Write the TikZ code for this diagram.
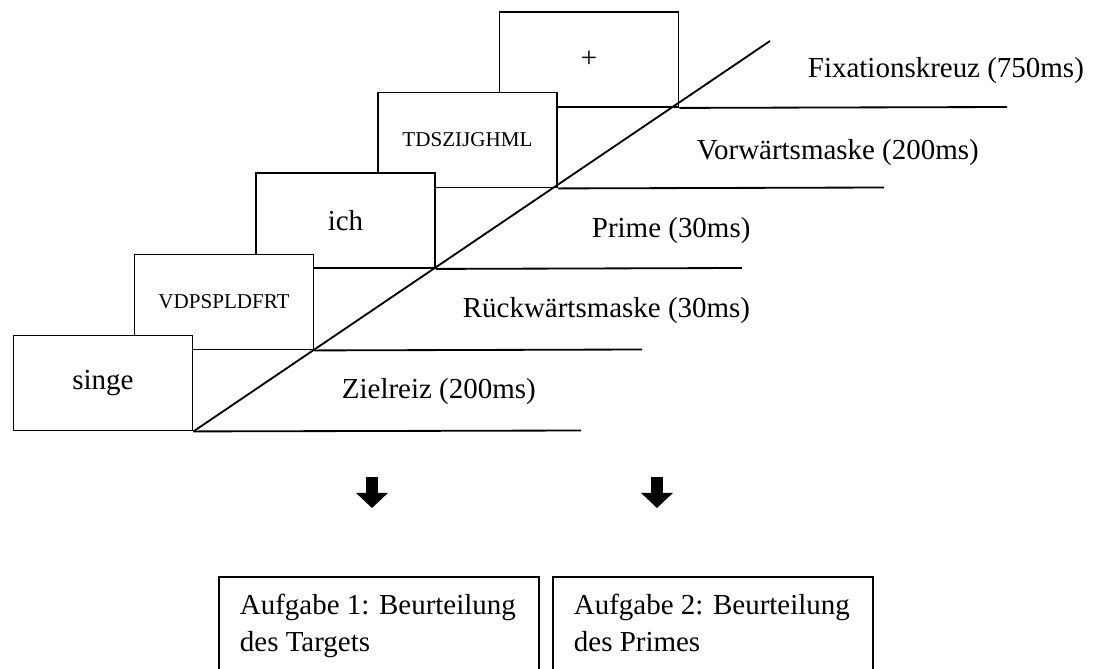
\documentclass[tikz,border=0pt]{standalone}
\usepackage{fontspec}
\setmainfont{Liberation Serif}
\usetikzlibrary{arrows.meta}

\begin{document}
\begin{tikzpicture}[x=0.025cm,y=-0.025cm,line width=1.3pt,
  frame/.style={draw,shape=rectangle,fill=white,inner sep=0pt,minimum width=4.475cm,minimum height=2.375cm,font=\fontsize{20.6}{24}\selectfont},
  maskframe/.style={frame,font=\fontsize{15}{18}\selectfont},
  phase/.style={anchor=base west,inner sep=0pt,font=\fontsize{20.6}{24}\selectfont},
  taskframe/.style={draw,shape=rectangle,anchor=north west,minimum width=8cm,minimum height=3cm},
  tasktext/.style={anchor=north west,align=left,inner xsep=0.525cm,inner ysep=12pt,font=\fontsize{20.6}{26.2}\selectfont},
  blockarrow/.style={line width=0.3cm,-{Triangle[length=0.375cm,width=0.775cm]}}]

\clip (0,0) rectangle (1098,669);

\node (fix) [frame] at (589,59.5) {+};
\node (fmask) [maskframe] at (467.5,140) {TDSZIJGHML};
\node (prime) [frame] at (345.5,220.5) {ich};
\node (bmask) [maskframe] at (224,302) {VDPSPLDFRT};
\node (target) [frame] at (103,383) {singe};

\coordinate (fixend) at (1007,107);
\coordinate (fmaskend) at (884,187.5);
\coordinate (primeend) at (742,268);
\coordinate (bmaskend) at (642,349.5);
\coordinate (targetend) at (581,430.5);
\coordinate (diagtop) at (770,41);

\draw (fix.south east) -- (fixend);
\draw (fmask.south east) -- (fmaskend);
\draw (prime.south east) -- (primeend);
\draw (bmask.south east) -- (bmaskend);
\draw (target.south east) -- (targetend);
\draw (target.south east) -- (diagtop);

\node (fixlabel) [phase] at (807,78) {Fixationskreuz (750ms)};
\node (fmasklabel) [phase] at (696,160) {Vorwärtsmaske (200ms)};
\node (primelabel) [phase] at (591,238) {Prime (30ms)};
\node (bmasklabel) [phase] at (462,318) {Rückwärtsmaske (30ms)};
\node (targetlabel) [phase] at (341,398) {Zielreiz (200ms)};

\coordinate (arrowtopA) at (372,477);
\coordinate (arrowtipA) at (372,508);
\coordinate (arrowtopB) at (657,477);
\coordinate (arrowtipB) at (657,508);
\draw[blockarrow] (arrowtopA) -- (arrowtipA);
\draw[blockarrow] (arrowtopB) -- (arrowtipB);

\node (task1) [taskframe] at (218,576) {};
\node (task1text) [tasktext] at (task1.north west) {Aufgabe 1: Beurteilung\\des Targets};
\node (task2) [taskframe] at (552,576) {};
\node (task2text) [tasktext] at (task2.north west) {Aufgabe 2: Beurteilung\\des Primes};

\end{tikzpicture}
\end{document}
